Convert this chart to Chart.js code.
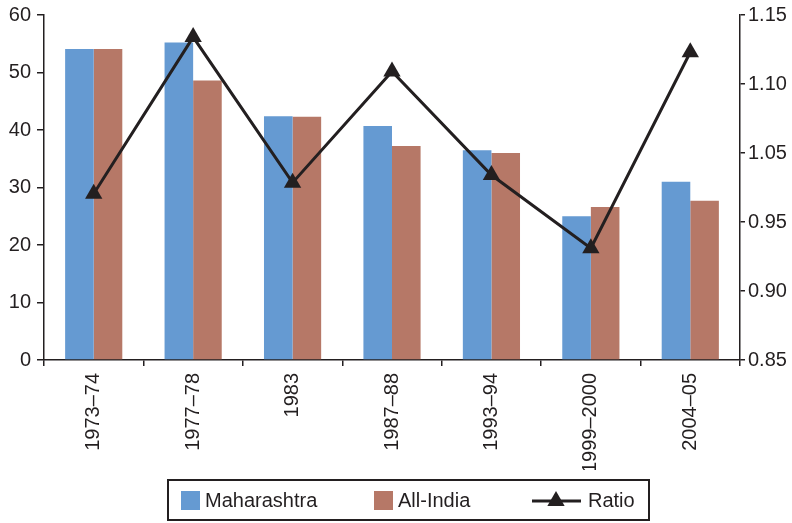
<!DOCTYPE html>
<html>
<head>
<meta charset="utf-8">
<script src="https://cdn.jsdelivr.net/npm/chart.js@4.4.1/dist/chart.umd.min.js"></script>
<style>
  html, body { margin: 0; padding: 0; background: #ffffff; }
  #wrap { position: relative; width: 792px; height: 523px; }
</style>
</head>
<body>
<div id="wrap"><canvas id="chart" width="792" height="523"></canvas></div>
<script>
// Survey rounds
const categories = ['1973–74', '1977–78', '1983', '1987–88', '1993–94', '1999–2000', '2004–05'];
// Head-count ratios (%)
const maharashtra = [54.1, 55.2, 42.4, 40.7, 36.5, 25.0, 31.0];
const allIndia = [54.1, 48.6, 42.3, 37.2, 36.0, 26.6, 27.7];
// Maharashtra / All-India
const ratio = [0.991, 1.134, 1.007, 1.109, 1.018, 0.931, 1.123];
// Axis tick labels
const leftTicks = [0, 10, 20, 30, 40, 50, 60];
const ratioTicks = [0.85, 0.90, 0.95, 1.05, 1.10, 1.15];

const INK = '#231f20';
const BLUE = '#659ad2';
const BROWN = '#b67867';
const FONT = "'Liberation Sans', Arial, sans-serif";
const FSIZE = 20;

// Linear scale whose listed break values sit at evenly spaced positions,
// with values between two breaks placed proportionally inside that step.
class StepLabelScale extends Chart.LinearScale {
  determineDataLimits() {
    const b = this.options.breaks;
    this.min = b[0];
    this.max = b[b.length - 1];
  }
  buildTicks() {
    return this.options.breaks.map(v => ({ value: v }));
  }
  _fraction(v) {
    const b = this.options.breaks, n = b.length - 1;
    if (v <= b[0]) return (v - b[0]) / (b[1] - b[0]) / n;
    for (let i = 0; i < n; i++) {
      if (v <= b[i + 1]) return (i + (v - b[i]) / (b[i + 1] - b[i])) / n;
    }
    return (n - 1 + (v - b[n - 1]) / (b[n] - b[n - 1])) / n;
  }
  getPixelForValue(v) {
    if (v === null || v === undefined || isNaN(v)) return NaN;
    return this.getPixelForDecimal(this._fraction(v));
  }
  getValueForPixel(p) {
    const b = this.options.breaks, n = b.length - 1;
    const f = this.getDecimalForPixel(p) * n;
    const i = Math.max(0, Math.min(n - 1, Math.floor(f)));
    return b[i] + (f - i) * (b[i + 1] - b[i]);
  }
}
StepLabelScale.id = 'steplabel';
StepLabelScale.defaults = {};
Chart.register(StepLabelScale);

// Vertical axes: fixed width, no extra room reserved for label overhang
function fitVertical(width) {
  return s => {
    s.width = width;
    s.paddingTop = 0;
    s.paddingBottom = 0;
  };
}

// Boxed legend drawn below the x-axis labels
const boxedLegend = {
  id: 'boxedLegend',
  afterDraw(chart) {
    const ctx = chart.ctx;
    ctx.save();
    ctx.strokeStyle = INK;
    ctx.lineWidth = 2;
    ctx.strokeRect(168, 480, 481, 40);
    const cy = 501;
    ctx.font = FSIZE + 'px ' + FONT;
    ctx.fillStyle = INK;
    ctx.textBaseline = 'middle';
    ctx.textAlign = 'left';
    const ds = chart.data.datasets;
    // bar swatches
    ctx.fillStyle = ds[0].backgroundColor;
    ctx.fillRect(181, 491, 19, 19);
    ctx.fillStyle = INK;
    ctx.fillText(ds[0].label, 205, cy);
    ctx.fillStyle = ds[1].backgroundColor;
    ctx.fillRect(374, 491, 19, 19);
    ctx.fillStyle = INK;
    ctx.fillText(ds[1].label, 398, cy);
    // line swatch with marker
    ctx.strokeStyle = INK;
    ctx.lineWidth = 3;
    ctx.beginPath();
    ctx.moveTo(532, cy);
    ctx.lineTo(581, cy);
    ctx.stroke();
    ctx.beginPath();
    const r = 10;
    ctx.moveTo(556, cy - r);
    ctx.lineTo(556 + r * 0.866, cy + r / 2);
    ctx.lineTo(556 - r * 0.866, cy + r / 2);
    ctx.closePath();
    ctx.fill();
    ctx.fillText(ds[2].label, 588, cy);
    ctx.restore();
  }
};

new Chart(document.getElementById('chart'), {
  type: 'bar',
  data: {
    labels: categories,
    datasets: [
      {
        label: 'Maharashtra',
        data: maharashtra,
        backgroundColor: BLUE,
        yAxisID: 'y',
        order: 2,
        barPercentage: 1,
        categoryPercentage: 0.575
      },
      {
        label: 'All-India',
        data: allIndia,
        backgroundColor: BROWN,
        yAxisID: 'y',
        order: 2,
        barPercentage: 1,
        categoryPercentage: 0.575
      },
      {
        type: 'line',
        label: 'Ratio',
        data: ratio,
        yAxisID: 'y1',
        order: 1,
        borderColor: INK,
        backgroundColor: INK,
        borderWidth: 3,
        tension: 0,
        pointStyle: 'triangle',
        pointRadius: 10,
        pointBackgroundColor: INK,
        pointBorderColor: INK,
        pointBorderWidth: 0
      }
    ]
  },
  options: {
    responsive: false,
    animation: false,
    events: [],
    layout: { padding: { top: 15, right: 0, bottom: 53, left: 0 } },
    plugins: {
      legend: { display: false },
      tooltip: { enabled: false }
    },
    scales: {
      x: {
        grid: { display: true, drawOnChartArea: false, drawTicks: true, tickLength: 6, color: INK, lineWidth: 1.5, offset: true },
        border: { display: true, color: INK, width: 1.5 },
        ticks: { color: INK, font: { family: FONT, size: FSIZE }, minRotation: 90, maxRotation: 90, padding: 7, autoSkip: false },
        afterFit(s) { s.height = 110; s.paddingLeft = 0; s.paddingRight = 0; }
      },
      y: {
        position: 'left',
        min: leftTicks[0],
        max: leftTicks[leftTicks.length - 1],
        afterBuildTicks(s) { s.ticks = leftTicks.map(v => ({ value: v })); },
        grid: { display: true, drawOnChartArea: false, drawTicks: true, tickLength: 7, color: INK, lineWidth: 1.5 },
        border: { display: true, color: INK, width: 1.5 },
        ticks: { color: INK, font: { family: FONT, size: FSIZE }, padding: 6 },
        afterFit: fitVertical(44)
      },
      y1: {
        type: 'steplabel',
        position: 'right',
        breaks: ratioTicks,
        grid: { display: true, drawOnChartArea: false, drawTicks: true, tickLength: 5, color: INK, lineWidth: 1.5 },
        border: { display: true, color: INK, width: 1.5 },
        ticks: { color: INK, font: { family: FONT, size: FSIZE }, padding: 3, callback: v => Number(v).toFixed(2) },
        afterFit: fitVertical(52)
      }
    }
  },
  plugins: [boxedLegend]
});
</script>
</body>
</html>
